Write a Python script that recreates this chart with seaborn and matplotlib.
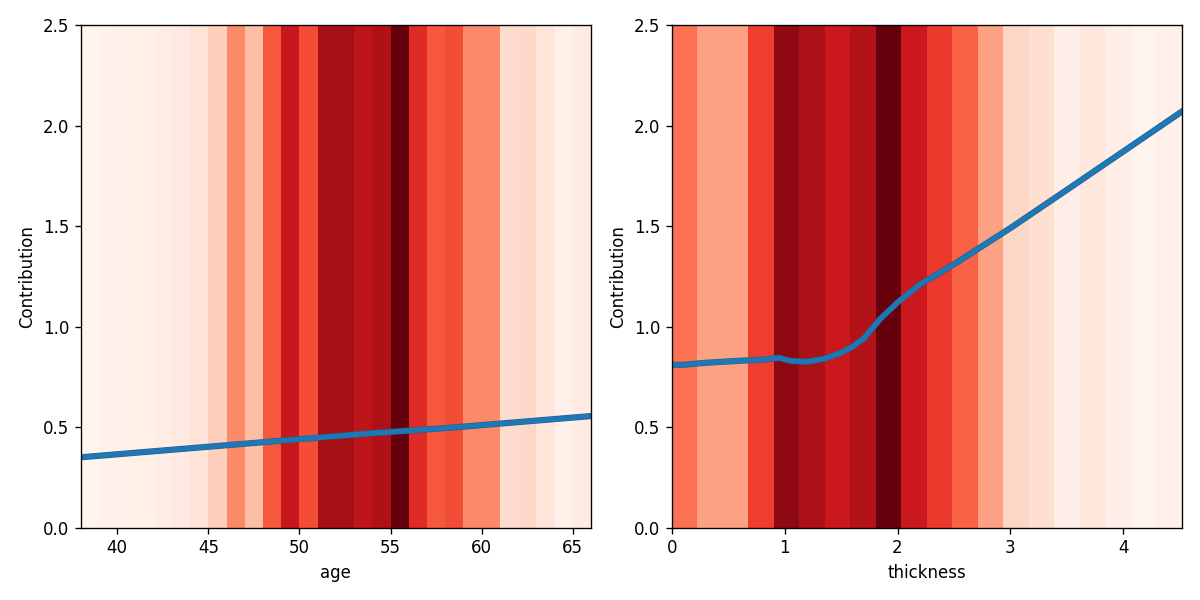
import matplotlib
matplotlib.use("Agg")
import matplotlib.pyplot as plt
import matplotlib.patheffects as pe
import seaborn as sns
import numpy as np

# density of observations per bin (0..1), drawn as background bands
age_edges = [38, 39, 40, 41, 42, 43, 44, 45, 46, 47, 48, 49, 50, 51, 52,
             53, 54, 55, 56, 57, 58, 59, 60, 61, 62, 63, 64, 65, 66]
age_density = [0.01, 0.02, 0.03, 0.035, 0.05, 0.065, 0.11, 0.18, 0.40, 0.24,
               0.55, 0.76, 0.58, 0.87, 0.87, 0.79, 0.84, 1.00, 0.68, 0.55,
               0.58, 0.40, 0.40, 0.14, 0.15, 0.09, 0.03, 0.06]

thick_edges = [0.0, 0.226, 0.452, 0.678, 0.904, 1.13, 1.356, 1.582, 1.808,
               2.034, 2.26, 2.486, 2.712, 2.938, 3.164, 3.39, 3.616, 3.842,
               4.068, 4.294, 4.52]
thick_density = [0.48, 0.33, 0.33, 0.62, 0.92, 0.85, 0.75, 0.83, 1.00, 0.75,
                 0.63, 0.52, 0.33, 0.16, 0.13, 0.04, 0.08, 0.04, 0.015, 0.025]

# contribution curves
age_x = [38, 42, 46, 50, 54, 58, 62, 66]
age_y = [0.35, 0.38, 0.41, 0.44, 0.47, 0.495, 0.525, 0.555]

thick_x = [0.0, 0.1, 0.3, 0.6, 0.8, 0.95, 1.05, 1.2, 1.35, 1.5, 1.6, 1.7,
           1.85, 2.0, 2.2, 2.5, 3.0, 3.5, 4.05, 4.52]
thick_y = [0.81, 0.81, 0.82, 0.83, 0.835, 0.845, 0.83, 0.825, 0.84, 0.87,
           0.9, 0.94, 1.04, 1.12, 1.21, 1.31, 1.49, 1.68, 1.89, 2.07]

cmap = sns.color_palette("Reds", as_cmap=True)

fig, axes = plt.subplots(1, 2, figsize=(10, 5), dpi=120)

panels = [
    (axes[0], age_edges, age_density, age_x, age_y, "age"),
    (axes[1], thick_edges, thick_density, thick_x, thick_y, "thickness"),
]

for ax, edges, dens, lx, ly, name in panels:
    ax.pcolormesh(edges, [0, 2.5], np.array([dens]), cmap=cmap,
                  vmin=0, vmax=1, shading="flat")
    sns.lineplot(x=lx, y=ly, ax=ax, color="#1f77b4", linewidth=3.0,
                 path_effects=[pe.Stroke(linewidth=3.7, foreground="#1d5f96"),
                               pe.Normal()])
    ax.set_xlim(edges[0], edges[-1])
    ax.set_ylim(0, 2.5)
    ax.set_xlabel(name)
    ax.set_ylabel("Contribution")

plt.tight_layout()
plt.savefig("out.png", dpi=120)
